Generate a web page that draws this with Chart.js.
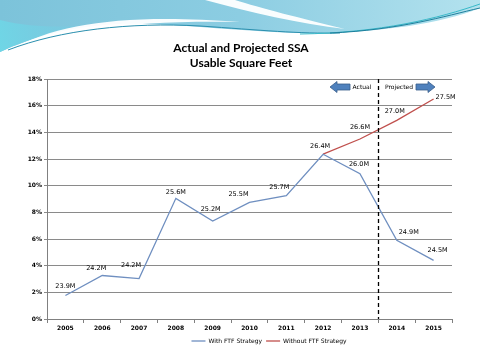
<!DOCTYPE html>
<html>
<head>
<meta charset="utf-8">
<script src="https://cdn.jsdelivr.net/npm/chart.js@4.4.1/dist/chart.umd.min.js"></script>
<style>
  html, body { margin: 0; padding: 0; background: #fff; }
  #wrap { position: relative; width: 480px; height: 360px; }
</style>
</head>
<body>
<div id="wrap"><canvas id="ssaChart" width="480" height="360"></canvas></div>
<script>
// Data
const YEARS = ['2005', '2006', '2007', '2008', '2009', '2010', '2011', '2012', '2013', '2014', '2015'];
const WITH_FTF = [1.76, 3.26, 3.03, 9.05, 7.35, 8.75, 9.25, 12.36, 10.9, 5.9, 4.4];
const WITHOUT_FTF = [null, null, null, null, null, null, null, 12.36, 13.5, 14.9, 16.5];
const WITH_LABELS = ['23.9M', '24.2M', '24.2M', '25.6M', '25.2M', '25.5M', '25.7M', '26.4M', '26.0M', '24.9M', '24.5M'];
const WITHOUT_LABELS = [null, null, null, null, null, null, null, null, '26.6M', '27.0M', '27.5M'];
const TITLE_LINES = ['Actual and Projected SSA', 'Usable Square Feet'];

// label nudges (px) so the values sit like in the slide
const WITH_NUDGE = [[0, -9], [-6, -7], [-8, -13], [0, -6], [-2, -12], [-11, -8], [-7, -8], [-3, -8], [-1, -9], [12, -8], [4, -10]];
const WITHOUT_NUDGE = [null, null, null, null, null, null, null, null, [0, -12], [-2, -9], [12, -2]];

const BLUE = '#6f8fc0';
const RED = '#c0504d';
const SMALL_FONT = "'DejaVu Sans', Verdana, sans-serif";

// Slide header wave + title
const slideBackground = {
  id: 'slideBackground',
  beforeDraw(chart) {
    const ctx = chart.ctx;
    ctx.save();
    ctx.fillStyle = '#ffffff';
    ctx.fillRect(0, 0, chart.width, chart.height);

    // blue band
    const g = ctx.createLinearGradient(0, 0, 480, 0);
    g.addColorStop(0, '#7cc3da');
    g.addColorStop(0.5, '#8ccde2');
    g.addColorStop(1, '#b3e2ee');
    ctx.fillStyle = g;
    ctx.beginPath();
    ctx.moveTo(0, 0);
    ctx.lineTo(480, 0);
    ctx.lineTo(480, 8);
    ctx.bezierCurveTo(440, 24, 380, 32, 320, 33);
    ctx.bezierCurveTo(250, 34, 180, 22, 120, 24);
    ctx.bezierCurveTo(70, 26, 30, 38, 0, 52);
    ctx.closePath();
    ctx.fill();

    // cyan glow lower-left
    const g2 = ctx.createLinearGradient(0, 50, 120, 20);
    g2.addColorStop(0, '#6fd6e6');
    g2.addColorStop(1, 'rgba(120,200,225,0)');
    ctx.fillStyle = g2;
    ctx.beginPath();
    ctx.moveTo(0, 20);
    ctx.bezierCurveTo(40, 30, 80, 26, 120, 24);
    ctx.bezierCurveTo(70, 26, 30, 38, 0, 52);
    ctx.closePath();
    ctx.fill();

    // white swoosh top
    ctx.fillStyle = 'rgba(255,255,255,0.95)';
    ctx.beginPath();
    ctx.moveTo(205, 0);
    ctx.bezierCurveTo(250, 12, 300, 24, 345, 29);
    ctx.bezierCurveTo(300, 18, 260, 8, 235, 0);
    ctx.closePath();
    ctx.fill();

    // white sweep inside band on the left
    ctx.beginPath();
    ctx.moveTo(10, 50);
    ctx.bezierCurveTo(60, 22, 130, 14, 240, 22);
    ctx.bezierCurveTo(130, 20, 70, 30, 10, 50);
    ctx.closePath();
    ctx.fill();

    // thin teal lines along the edge
    ctx.strokeStyle = '#2a8fae';
    ctx.lineWidth = 1;
    ctx.beginPath();
    ctx.moveTo(8, 50);
    ctx.bezierCurveTo(60, 30, 130, 22, 200, 26);
    ctx.bezierCurveTo(260, 30, 300, 34, 340, 33);
    ctx.stroke();
    ctx.strokeStyle = '#38b9c9';
    ctx.beginPath();
    ctx.moveTo(300, 34);
    ctx.bezierCurveTo(380, 33, 440, 18, 480, 4);
    ctx.stroke();
    ctx.strokeStyle = '#1e7f9c';
    ctx.beginPath();
    ctx.moveTo(330, 33);
    ctx.bezierCurveTo(400, 30, 445, 16, 480, 8);
    ctx.stroke();

    // title
    ctx.fillStyle = '#000';
    ctx.font = "bold 12px Lato, 'Open Sans', sans-serif";
    ctx.textAlign = 'center';
    ctx.textBaseline = 'middle';
    ctx.fillText(TITLE_LINES[0], 241, 48);
    ctx.fillText(TITLE_LINES[1], 241, 63);
    ctx.restore();
  }
};

// legend sits a bit right of centre in the slide
const legendShift = {
  id: 'legendShift',
  afterLayout(chart) {
    const lg = chart.legend;
    if (!lg) return;
    lg.left += 32;
    lg.right += 32;
  }
};

// Dashed divider, arrows, value labels
const annotations = {
  id: 'annotations',
  afterDatasetsDraw(chart) {
    const ctx = chart.ctx;
    const area = chart.chartArea;
    const xs = chart.scales.x;
    const divX = Math.round((xs.getPixelForValue(8) + xs.getPixelForValue(9)) / 2) + 0.5;

    ctx.save();
    ctx.strokeStyle = '#000';
    ctx.lineWidth = 1.3;
    ctx.setLineDash([4, 3]);
    ctx.beginPath();
    ctx.moveTo(divX, area.top);
    ctx.lineTo(divX, area.bottom);
    ctx.stroke();
    ctx.setLineDash([]);

    // block arrows
    const drawArrow = (x1, x2, y, dir) => {
      const h = 3, head = 7, hh = 5.5;
      ctx.beginPath();
      if (dir < 0) {
        ctx.moveTo(x1, y);
        ctx.lineTo(x1 + head, y - hh);
        ctx.lineTo(x1 + head, y - h);
        ctx.lineTo(x2, y - h);
        ctx.lineTo(x2, y + h);
        ctx.lineTo(x1 + head, y + h);
        ctx.lineTo(x1 + head, y + hh);
      } else {
        ctx.moveTo(x2, y);
        ctx.lineTo(x2 - head, y - hh);
        ctx.lineTo(x2 - head, y - h);
        ctx.lineTo(x1, y - h);
        ctx.lineTo(x1, y + h);
        ctx.lineTo(x2 - head, y + h);
        ctx.lineTo(x2 - head, y + hh);
      }
      ctx.closePath();
      ctx.fillStyle = '#4f81bd';
      ctx.fill();
      ctx.strokeStyle = '#385d8a';
      ctx.lineWidth = 0.8;
      ctx.stroke();
    };
    drawArrow(330, 350, 87, -1);
    drawArrow(416, 435, 87, 1);

    ctx.fillStyle = '#000';
    ctx.font = "6px " + SMALL_FONT;
    ctx.textBaseline = 'middle';
    ctx.textAlign = 'center';
    ctx.fillText('Actual', 362, 87);
    ctx.fillText('Projected', 399, 87);

    // value labels
    const drawLabels = (dsIndex, labels, nudge) => {
      const meta = chart.getDatasetMeta(dsIndex);
      meta.data.forEach((pt, i) => {
        if (!labels[i]) return;
        ctx.fillText(labels[i], pt.x + nudge[i][0], pt.y + nudge[i][1]);
      });
    };
    ctx.font = "6.5px " + SMALL_FONT;
    drawLabels(0, WITH_LABELS, WITH_NUDGE);
    drawLabels(1, WITHOUT_LABELS, WITHOUT_NUDGE);
    ctx.restore();
  }
};

const ctx = document.getElementById('ssaChart').getContext('2d');
new Chart(ctx, {
  type: 'line',
  data: {
    labels: YEARS,
    datasets: [
      {
        label: 'With FTF Strategy',
        data: WITH_FTF,
        borderColor: BLUE,
        backgroundColor: BLUE,
        borderWidth: 1.3,
        pointRadius: 0,
        tension: 0
      },
      {
        label: 'Without FTF Strategy',
        data: WITHOUT_FTF,
        borderColor: RED,
        backgroundColor: RED,
        borderWidth: 1.3,
        pointRadius: 0,
        tension: 0
      }
    ]
  },
  options: {
    responsive: false,
    animation: false,
    layout: { padding: { top: 79, left: 22, right: 28, bottom: 6 } },
    plugins: {
      title: { display: false },
      tooltip: { enabled: false },
      legend: {
        position: 'bottom',
        labels: {
          usePointStyle: true,
          pointStyle: 'line',
          pointStyleWidth: 14,
          boxHeight: 6,
          padding: 4,
          color: '#000',
          font: { family: SMALL_FONT, size: 6 }
        }
      }
    },
    scales: {
      x: {
        offset: true,
        afterFit: (s) => { s.height = 15; },
        grid: {
          offset: true,
          drawOnChartArea: false,
          drawTicks: true,
          tickLength: 4,
          color: '#808080'
        },
        border: { color: '#808080', width: 1 },
        ticks: {
          color: '#000',
          padding: 2,
          maxRotation: 0,
          font: { family: SMALL_FONT, size: 6, weight: 'bold' }
        }
      },
      y: {
        min: 0,
        max: 18,
        afterFit: (s) => { s.width = 25; },
        grid: {
          color: '#8a8a8a',
          lineWidth: 1,
          tickLength: 3
        },
        border: { color: '#808080', width: 1 },
        ticks: {
          stepSize: 2,
          color: '#000',
          padding: 2,
          font: { family: SMALL_FONT, size: 6, weight: 'bold' },
          callback: (v) => v + '%'
        }
      }
    }
  },
  plugins: [slideBackground, legendShift, annotations]
});
</script>
</body>
</html>
